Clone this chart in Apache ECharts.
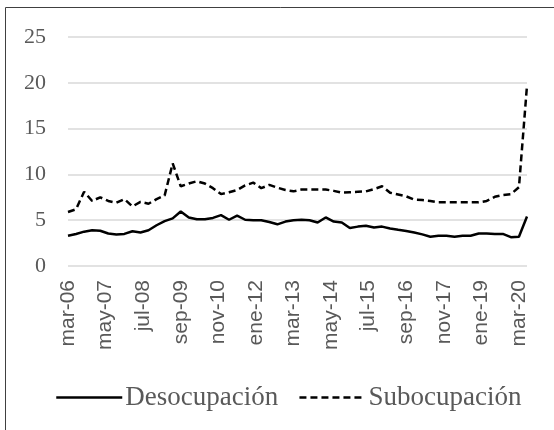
<!DOCTYPE html>
<html>
<head>
<meta charset="utf-8">
<script src="https://cdn.jsdelivr.net/npm/echarts@6/dist/echarts.min.js"></script>
<style>
    html, body { margin: 0; padding: 0; background: #fff; }
    #chart { width: 554px; height: 430px; }
</style>
</head>
<body>
<div id="chart"></div>
<script>
// meses del eje (mensual, mar-06 a jun-20)
const monthNames = ['ene', 'feb', 'mar', 'abr', 'may', 'jun', 'jul', 'ago', 'sep', 'oct', 'nov', 'dic']
const startYear = 2006
const startMonth = 2 // marzo
const monthCount = 172

// datos trimestrales (mar, jun, sep, dic)
const desocupacion = [
    3.3, 3.5, 3.75, 3.9, 3.85, 3.55, 3.45, 3.5, 3.8, 3.65,
    3.9, 4.45, 4.9, 5.2, 5.95, 5.3, 5.1, 5.1, 5.25, 5.55,
    5.05, 5.5, 5.05, 5.0, 5.0, 4.8, 4.55, 4.85, 5.0, 5.05,
    5.0, 4.75, 5.3, 4.85, 4.75, 4.15, 4.3, 4.4, 4.2, 4.3,
    4.1, 3.95, 3.82, 3.65, 3.45, 3.2, 3.3, 3.3, 3.2, 3.3,
    3.3, 3.55, 3.55, 3.5, 3.5, 3.15, 3.2, 5.4
]
const subocupacion = [
    5.9, 6.2, 8.1, 7.1, 7.5, 7.1, 6.9, 7.3, 6.5, 7.0,
    6.8, 7.3, 7.7, 11.2, 8.7, 9.0, 9.25, 9.0, 8.5, 7.85,
    8.05, 8.3, 8.8, 9.1, 8.5, 8.85, 8.55, 8.3, 8.15, 8.35,
    8.35, 8.35, 8.35, 8.2, 8.0, 8.05, 8.1, 8.15, 8.4, 8.7,
    8.0, 7.8, 7.6, 7.25, 7.2, 7.1, 6.95, 6.95, 6.95, 6.95,
    6.95, 6.95, 7.1, 7.55, 7.75, 7.85, 8.6, 19.7
]

const categories = []
for (let i = 0; i < monthCount; i++) {
    let m = startMonth + i
    let y = startYear + Math.floor(m / 12)
    categories.push(monthNames[m % 12] + '-' + String(y).slice(2))
}

// coloca cada trimestre en su mes
function toMonthly (quarterly) {
    let out = new Array(monthCount).fill(null)
    quarterly.forEach((v, q) => { out[q * 3] = v })
    return out
}

const labelColor = '#595959'
const serif = '"Liberation Serif", "Times New Roman", serif'

let chart = echarts.init(document.getElementById('chart'))
chart.setOption({
    animation: false,
    graphic: [{
        type: 'rect',
        shape: { x: 5.5, y: 7.5, width: 560, height: 430 },
        style: { fill: 'none', stroke: '#404040', lineWidth: 1 },
        silent: true
    }],
    grid: { left: 68, right: 27, top: 37, bottom: 164, containLabel: false },
    legend: {
        bottom: 14,
        left: 50,
        itemWidth: 66,
        itemHeight: 14,
        itemGap: 20,
        itemStyle: { opacity: 0 },
        lineStyle: { width: 2.5 },
        textStyle: { fontFamily: serif, fontSize: 27, color: labelColor, padding: [0, 0, 0, -2] },
        data: ['Desocupación', 'Subocupación']
    },
    xAxis: {
        type: 'category',
        data: categories,
        boundaryGap: false,
        axisLine: { show: false },
        axisTick: { show: false },
        axisLabel: {
            interval: 13,
            rotate: 90,
            margin: 14,
            fontFamily: '"Liberation Sans", Arial, sans-serif',
            fontSize: 21,
            color: labelColor
        }
    },
    yAxis: {
        type: 'value',
        min: 0,
        max: 25,
        interval: 5,
        axisLine: { show: false },
        axisTick: { show: false },
        axisLabel: {
            margin: 22,
            fontFamily: serif,
            fontSize: 22,
            color: labelColor
        },
        splitLine: { lineStyle: { color: '#d9d9d9', width: 1.5 } }
    },
    series: [{
        name: 'Desocupación',
        type: 'line',
        data: toMonthly(desocupacion),
        connectNulls: true,
        symbol: 'none',
        lineStyle: { color: '#000', width: 2.5, type: 'solid' },
        itemStyle: { color: '#000' }
    }, {
        name: 'Subocupación',
        type: 'line',
        data: toMonthly(subocupacion),
        connectNulls: true,
        symbol: 'none',
        lineStyle: { color: '#000', width: 2.5, type: [7, 4] },
        itemStyle: { color: '#000' }
    }]
})
</script>
</body>
</html>
